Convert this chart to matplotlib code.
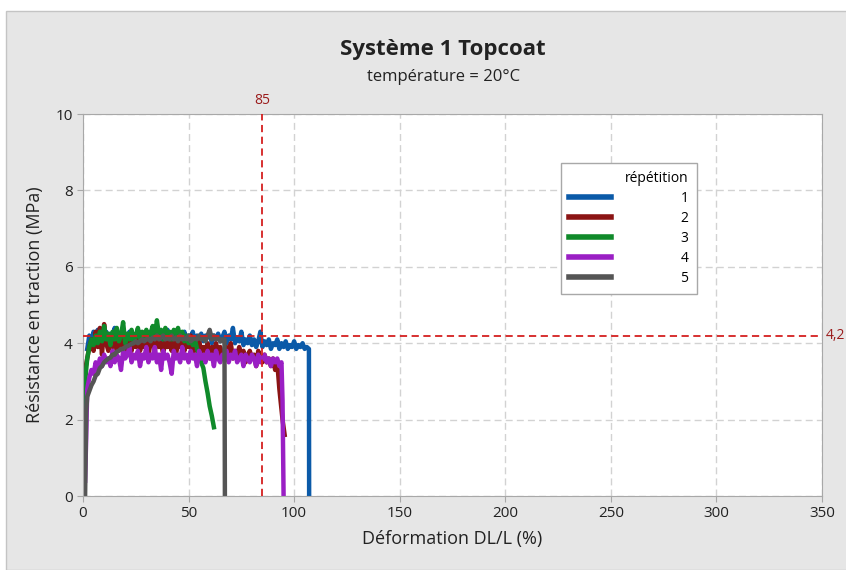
import matplotlib.pyplot as plt
from matplotlib.patches import Rectangle
from matplotlib.lines import Line2D

plt.rcParams['font.family'] = ['Open Sans', 'DejaVu Sans']

# repetition 1 (bleu)
x1 = [2, 3, 4, 5, 6, 7, 8, 9, 10, 11, 12, 13, 14, 15, 16, 17, 18, 19, 20, 21, 22, 23, 24,
      25, 26, 27, 28, 29, 30, 31, 32, 33, 34, 35, 36, 37, 38, 39, 40, 41, 42, 43, 44, 45,
      46, 47, 48, 49, 50, 51, 52, 53, 54, 55, 56, 57, 58, 59, 60, 61, 62, 63, 64, 65, 66,
      67, 68, 69, 70, 71, 72, 73, 74, 75, 76, 77, 78, 79, 80, 81, 82, 83, 84, 85, 86, 87,
      88, 89, 90, 91, 92, 93, 94, 95, 96, 97, 98, 99, 100, 101, 102, 103, 104, 105, 106,
      107, 107.1]
y1 = [3.85, 4.2, 4.0, 4.3, 4.1, 4.35, 3.95, 4.2, 4.1, 4.3, 4.05, 4.25, 4.15, 4.4, 4.0, 4.2,
      4.1, 4.3, 4.05, 4.15, 4.3, 4.0, 4.2, 4.1, 4.35, 4.05, 4.2, 4.0, 4.25, 4.15, 4.3, 4.05,
      4.2, 4.1, 4.3, 4.0, 4.25, 4.15, 4.35, 4.05, 4.2, 4.1, 4.25, 3.95, 4.2, 4.1, 4.3, 4.05,
      4.2, 4.15, 4.3, 4.0, 4.2, 4.1, 4.25, 4.05, 4.2, 4.15, 4.3, 4.0, 4.2, 4.1, 4.25, 4.05,
      4.15, 4.3, 4.0, 4.2, 4.1, 4.4, 4.0, 4.15, 4.05, 4.3, 3.95, 4.1, 4.0, 4.2, 3.95, 4.1,
      3.9, 4.05, 4.3, 3.9, 4.05, 3.95, 4.1, 3.85, 4.0, 3.95, 4.1, 3.85, 4.0, 3.9, 4.05, 3.85,
      3.95, 3.9, 4.05, 3.85, 3.95, 3.9, 4.0, 3.85, 3.9, 3.85, 0.0]

# repetition 2 (rouge)
x2 = [0.5, 1, 2, 3, 4, 5, 6, 7, 8, 9, 10, 11, 12, 13, 14, 15, 16, 17, 18, 19, 20, 21, 22,
      23, 24, 25, 26, 27, 28, 29, 30, 31, 32, 33, 34, 35, 36, 37, 38, 39, 40, 41, 42, 43,
      44, 45, 46, 47, 48, 49, 50, 51, 52, 53, 54, 55, 56, 57, 58, 59, 60, 61, 62, 63, 64,
      65, 66, 67, 68, 69, 70, 71, 72, 73, 74, 75, 76, 77, 78, 79, 80, 81, 82, 83, 84, 85,
      86, 87, 88, 89, 90, 91, 92, 93, 94.5, 95.5]
y2 = [2.2, 3.3, 3.6, 3.9, 4.1, 3.8, 4.3, 3.9, 4.4, 3.7, 4.5, 4.0, 3.8, 4.2, 3.9, 4.3, 3.8,
      4.1, 3.9, 4.2, 3.7, 4.0, 4.2, 3.8, 4.1, 3.9, 4.3, 3.8, 4.0, 3.9, 4.2, 3.7, 4.0, 4.1,
      3.8, 4.2, 3.9, 4.0, 3.7, 4.1, 3.9, 4.0, 3.8, 4.2, 3.7, 4.0, 3.9, 4.1, 3.8, 4.0, 3.9,
      4.2, 3.7, 4.0, 3.8, 4.1, 3.7, 3.9, 3.8, 4.0, 3.6, 3.9, 3.8, 4.0, 3.7, 3.9, 3.6, 3.8,
      3.9, 3.7, 4.0, 3.6, 3.8, 3.7, 3.9, 3.6, 3.8, 3.5, 3.7, 3.8, 3.6, 3.7, 3.4, 3.8, 3.6,
      3.5, 3.7, 3.5, 3.6, 3.4, 3.6, 3.3, 3.5, 2.8, 2.0, 1.6]

# repetition 3 (vert)
x3 = [0.5, 1, 2, 3, 4, 5, 6, 7, 8, 9, 10, 11, 12, 13, 14, 15, 16, 17, 18, 19, 20, 21, 22,
      23, 24, 25, 26, 27, 28, 29, 30, 31, 32, 33, 34, 35, 36, 37, 38, 39, 40, 41, 42, 43,
      44, 45, 46, 47, 48, 49, 50, 51, 52, 53, 54, 55, 56, 57, 58, 59, 60, 61, 62]
y3 = [2.1, 3.0, 3.6, 3.9, 4.1, 3.95, 4.2, 4.0, 4.3, 4.05, 4.45, 4.1, 4.25, 3.95, 4.3, 4.1,
      4.4, 4.05, 4.2, 4.55, 4.0, 4.25, 4.1, 4.35, 4.05, 4.2, 4.4, 4.1, 4.3, 4.15, 4.35, 4.1,
      4.25, 4.45, 4.15, 4.6, 4.2, 4.35, 4.1, 4.4, 4.2, 4.3, 4.1, 4.35, 4.2, 4.4, 4.15, 4.3,
      4.05, 4.2, 4.0, 4.15, 3.95, 4.1, 3.85, 3.7, 3.5, 3.35, 3.0, 2.7, 2.35, 2.1, 1.8]

# repetition 4 (violet)
x4 = [1, 1.5, 2, 3, 4, 5, 6, 7, 8, 9, 10, 11, 12, 13, 14, 15, 16, 17, 18, 19, 20, 21, 22,
      23, 24, 25, 26, 27, 28, 29, 30, 31, 32, 33, 34, 35, 36, 37, 38, 39, 40, 41, 42, 43,
      44, 45, 46, 47, 48, 49, 50, 51, 52, 53, 54, 55, 56, 57, 58, 59, 60, 61, 62, 63, 64,
      65, 66, 67, 68, 69, 70, 71, 72, 73, 74, 75, 76, 77, 78, 79, 80, 81, 82, 83, 84, 85,
      86, 87, 88, 89, 90, 91, 92, 93, 94, 94.5, 95]
y4 = [0.4, 1.5, 2.8, 3.1, 3.3, 3.2, 3.5, 3.3, 3.6, 3.4, 3.7, 3.5, 3.6, 3.4, 3.8, 3.5, 3.7,
      3.6, 3.3, 3.8, 3.6, 3.7, 3.9, 3.5, 3.7, 3.6, 3.8, 3.4, 3.7, 3.6, 3.9, 3.5, 3.7, 3.6,
      3.9, 3.5, 3.7, 3.3, 3.8, 3.6, 3.7, 3.5, 3.2, 3.8, 3.6, 3.7, 3.5, 3.9, 3.6, 3.7, 3.5,
      3.8, 3.6, 3.7, 3.4, 3.8, 3.6, 3.7, 3.5, 3.8, 3.6, 3.7, 3.4, 3.8, 3.6, 3.5, 3.7, 3.6,
      3.8, 3.5, 3.7, 3.6, 3.8, 3.5, 3.6, 3.7, 3.4, 3.7, 3.6, 3.5, 3.7, 3.6, 3.4, 3.7, 3.5,
      3.6, 3.7, 3.5, 3.6, 3.4, 3.6, 3.5, 3.6, 3.4, 3.5, 2.5, 0.0]

# repetition 5 (gris)
x5 = [1, 1.5, 2, 3, 4, 5, 6, 7, 8, 9, 10, 11, 12, 13, 14, 15, 16, 17, 18, 19, 20, 21, 22,
      23, 24, 25, 26, 27, 28, 29, 30, 31, 32, 33, 34, 35, 36, 37, 38, 39, 40, 41, 42, 43,
      44, 45, 46, 47, 48, 49, 50, 51, 52, 53, 54, 55, 56, 57, 58, 59, 60, 61, 62, 63, 64,
      65, 66, 67, 67.2]
y5 = [0.0, 2.2, 2.6, 2.75, 2.9, 3.0, 3.15, 3.2, 3.35, 3.4, 3.5, 3.55, 3.6, 3.62, 3.7, 3.7,
      3.78, 3.8, 3.85, 3.85, 3.9, 3.92, 3.95, 3.98, 4.0, 4.05, 4.0, 4.05, 4.1, 4.05, 4.1,
      4.12, 4.05, 4.15, 4.1, 4.2, 4.1, 4.15, 4.2, 4.1, 4.15, 4.1, 4.2, 4.1, 4.15, 4.05, 4.2,
      4.1, 4.15, 4.1, 4.2, 4.05, 4.1, 4.15, 4.1, 4.2, 4.1, 4.15, 4.05, 4.2, 4.35, 4.1, 4.2,
      4.1, 4.15, 4.05, 4.1, 4.1, 0.05]

series = [(x1, y1), (x2, y2), (x3, y3), (x4, y4), (x5, y5)]
labels = ['1', '2', '3', '4', '5']
colors = ['#0b5aa8', '#8b1414', '#108a2a', '#9a1fc4', '#555555']

ref_x = 85
ref_y = 4.2

fig = plt.figure(figsize=(8.46, 5.70), dpi=100)
fig.patch.set_facecolor('white')
fig.patches.append(Rectangle((6 / 846, 0), 1, 1 - 11 / 570, transform=fig.transFigure,
                             facecolor='#e6e6e6', edgecolor='#c4c4c4', lw=1, zorder=-10))

ax = fig.add_axes([83 / 846, 1 - 496 / 570, (822 - 83) / 846, (496 - 114) / 570])
ax.set_facecolor('white')

for (xs, ys), lab, c in zip(series, labels, colors):
    ax.plot(xs, ys, color=c, lw=3.2, label=lab)

ax.axvline(ref_x, color='#d42020', ls=(0, (4, 2.5)), lw=1.3, zorder=5)
ax.axhline(ref_y, color='#d42020', ls=(0, (4, 2.5)), lw=1.3, zorder=5)
ax.text(ref_x, 10.15, '85', color='#9b1c1c', fontsize=10, ha='center', va='bottom')
ax.text(352, ref_y, '4,2', color='#9b1c1c', fontsize=10, ha='left', va='center', clip_on=False)

ax.set_xlim(0, 350)
ax.set_ylim(0, 10)
ax.set_xticks(range(0, 351, 50))
ax.set_yticks(range(0, 11, 2))
ax.grid(True, color='#d2d2d2', ls=(0, (5, 3)), lw=1)
ax.set_axisbelow(True)
for s in ax.spines.values():
    s.set_color('#a8a8a8')
ax.tick_params(colors='#a8a8a8', labelcolor='#222222', labelsize=11, length=4)

ax.set_xlabel('Déformation DL/L (%)', fontsize=13, color='#222222', labelpad=6)
ax.set_ylabel('Résistance en traction (MPa)', fontsize=13, color='#222222', labelpad=8)

fig.text(0.524, 1 - 50 / 570, 'Système 1 Topcoat', fontsize=16, fontweight='bold',
         ha='center', va='center', color='#222222')
fig.text(0.524, 1 - 77 / 570, 'température = 20°C', fontsize=12, ha='center', va='center',
         color='#222222')

handles = [Line2D([], [], color=c, lw=4) for c in colors]
leg = ax.legend(handles, labels, title='répétition', loc='upper left',
                bbox_to_anchor=((561 - 83) / 739, (496 - 163) / 382), borderaxespad=0,
                alignment='right', handlelength=3.0, handletextpad=5.0, fancybox=False,
                framealpha=1, edgecolor='#a8a8a8', fontsize=10, title_fontsize=10,
                labelspacing=0.35, borderpad=0.6)
leg.get_frame().set_linewidth(1)

fig.savefig('out.png', dpi=100)
